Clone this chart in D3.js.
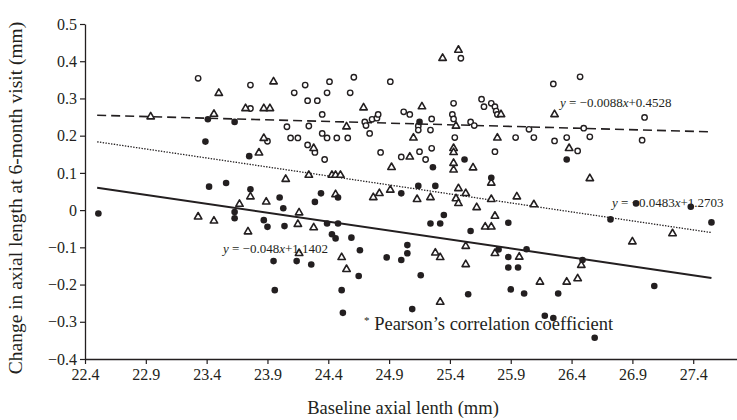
<!DOCTYPE html>
<html>
<head>
<meta charset="utf-8">
<script src="https://cdn.jsdelivr.net/npm/d3@7"></script>
<style>
  body { margin: 0; background: #fff; }
  text { font-family: "Liberation Serif", "DejaVu Serif", serif; fill: #231f20; }
</style>
</head>
<body>
<script>
// group 1: open circles
var openCircles = [
  [23.33, 0.354], [23.76, 0.336], [23.76, 0.273], [24.12, 0.315], [24.21, 0.336],
  [24.41, 0.345], [24.61, 0.357], [24.91, 0.345], [24.39, 0.315], [24.58, 0.315],
  [24.23, 0.294], [24.31, 0.294], [24.35, 0.257], [24.70, 0.237], [24.71, 0.227],
  [24.76, 0.244], [24.80, 0.247], [24.81, 0.257], [25.02, 0.264], [25.07, 0.257],
  [24.06, 0.224], [24.24, 0.226], [24.74, 0.206], [24.35, 0.206], [24.39, 0.194],
  [24.47, 0.194], [24.56, 0.194], [24.09, 0.194], [24.15, 0.194], [23.90, 0.185],
  [24.23, 0.175], [24.29, 0.155], [24.37, 0.136], [24.83, 0.155], [25.00, 0.143],
  [25.49, 0.408], [26.25, 0.339], [25.43, 0.287], [25.66, 0.298], [25.68, 0.278],
  [25.74, 0.287], [25.77, 0.278], [25.78, 0.266], [25.79, 0.257], [25.42, 0.257],
  [25.43, 0.245], [25.25, 0.245], [25.14, 0.226], [25.14, 0.215], [25.24, 0.215],
  [25.57, 0.237], [25.60, 0.227], [25.44, 0.195], [26.05, 0.217], [26.09, 0.195],
  [25.94, 0.195], [26.26, 0.186], [26.36, 0.195], [25.15, 0.157], [25.25, 0.166],
  [25.20, 0.136], [25.77, 0.157], [26.47, 0.358], [27.00, 0.249], [26.55, 0.197],
  [26.50, 0.220], [26.98, 0.188], [26.45, 0.159]
];

// group 2: open triangles
var triangles = [
  [23.50, 0.314], [22.94, 0.251], [23.46, 0.258], [23.72, 0.273], [23.76, 0.036],
  [23.67, 0.016], [23.33, -0.018], [23.46, -0.029], [23.74, -0.058], [23.95, 0.345],
  [23.87, 0.273], [23.92, 0.273], [24.69, 0.275], [24.55, 0.224], [23.87, 0.193],
  [25.10, 0.194], [24.28, 0.166], [25.07, 0.143], [23.83, 0.154], [24.92, 0.115],
  [24.05, 0.083], [24.24, 0.094], [24.43, 0.094], [24.46, 0.094], [24.50, 0.094],
  [23.89, 0.022], [24.46, 0.042], [24.77, 0.034], [24.82, 0.045], [24.91, 0.054],
  [24.16, -0.007], [24.15, -0.038], [24.28, -0.047], [24.16, -0.116], [24.51, -0.127],
  [24.55, -0.159], [25.34, 0.408], [25.47, 0.430], [25.17, 0.278], [25.82, 0.257],
  [26.26, 0.257], [25.45, 0.226], [25.79, 0.194], [26.38, 0.166], [25.43, 0.166],
  [25.43, 0.155], [25.43, 0.126], [25.43, 0.108], [25.59, 0.114], [25.74, 0.073],
  [25.47, 0.058], [25.53, 0.045], [25.45, 0.031], [25.47, 0.018], [25.13, 0.029],
  [25.24, 0.034], [25.62, 0.007], [25.74, 0.029], [25.95, 0.036], [26.09, 0.015],
  [25.77, -0.016], [25.69, -0.045], [25.74, -0.045], [25.53, -0.097], [25.28, -0.115],
  [25.32, -0.127], [25.77, -0.116], [25.97, -0.126], [25.53, -0.146], [26.14, -0.193],
  [26.36, -0.193], [25.32, -0.247], [26.55, 0.085], [27.23, -0.063], [26.90, -0.085],
  [26.48, -0.148], [26.45, -0.184]
];

// group 3: filled circles
var filledCircles = [
  [22.51, -0.009], [23.41, 0.244], [23.63, 0.237], [23.39, 0.184], [23.75, 0.145],
  [23.42, 0.063], [23.56, 0.073], [23.76, 0.056], [23.63, -0.005], [23.63, -0.022],
  [24.00, 0.034], [24.03, 0.005], [24.29, 0.022], [24.34, 0.045], [24.48, 0.034],
  [25.00, 0.045], [23.87, -0.027], [23.90, -0.045], [24.04, -0.043], [24.39, -0.036],
  [24.48, -0.036], [24.43, -0.065], [24.46, -0.076], [24.59, -0.074], [24.66, -0.108],
  [25.05, -0.094], [25.05, -0.116], [24.88, -0.127], [25.00, -0.134], [23.95, -0.137],
  [24.14, -0.137], [24.26, -0.146], [24.65, -0.177], [23.96, -0.215], [24.51, -0.215],
  [24.52, -0.276], [25.09, -0.266], [25.15, 0.237], [25.52, 0.136], [25.26, 0.115],
  [26.36, 0.136], [25.74, 0.087], [25.14, 0.065], [25.28, 0.065], [25.35, -0.013],
  [25.24, -0.036], [25.32, -0.036], [25.88, -0.034], [25.57, -0.056], [25.80, -0.106],
  [26.03, -0.105], [25.88, -0.126], [25.88, -0.154], [25.96, -0.154], [25.16, -0.175],
  [25.90, -0.213], [26.01, -0.224], [25.55, -0.226], [26.29, -0.224], [26.18, -0.284],
  [26.25, -0.290], [26.93, 0.018], [27.38, 0.009], [26.72, -0.025], [27.55, -0.033],
  [26.49, -0.134], [27.08, -0.204], [26.59, -0.343]
];

// linear fits (slope, intercept), drawn over the measured range
var fitSlopes = [-0.0088, -0.0483, -0.048];
var fitIntercepts = [0.4528, 1.2703, 1.1402];
var fitRange = [22.5, 27.55];

var xTicks = [22.4, 22.9, 23.4, 23.9, 24.4, 24.9, 25.4, 25.9, 26.4, 26.9, 27.4];
var yTicks = [-0.4, -0.3, -0.2, -0.1, 0, 0.1, 0.2, 0.3, 0.4, 0.5];

var width = 737, height = 420;

var svg = d3.select("body").append("svg")
    .attr("width", width)
    .attr("height", height);

var x = d3.scaleLinear().domain([22.4, 27.76]).range([85, 737]);
var y = d3.scaleLinear().domain([-0.4, 0.5]).range([359, 24]);

// axes
var xAxis = d3.axisBottom(x)
    .tickValues(xTicks)
    .tickFormat(d3.format(".1f"))
    .tickSize(5)
    .tickSizeOuter(0);
var yAxis = d3.axisLeft(y)
    .tickValues(yTicks)
    .tickFormat(d => d === 0 ? "0" : d3.format(".1f")(d))
    .tickSize(5)
    .tickSizeOuter(0);

var gx = svg.append("g")
    .attr("transform", `translate(0, ${y(-0.4)})`)
    .call(xAxis);
var gy = svg.append("g")
    .attr("transform", `translate(${x(22.4)}, 0)`)
    .call(yAxis);

[gx, gy].forEach(function(g) {
    g.select(".domain").attr("stroke", "#231f20").attr("stroke-width", 1.3);
    g.selectAll(".tick line").attr("stroke", "#231f20").attr("stroke-width", 1.2);
    g.selectAll(".tick text")
        .attr("font-family", "Liberation Serif, serif")
        .attr("font-size", 16)
        .attr("fill", "#231f20");
});
gx.selectAll(".tick text").attr("y", 7).attr("dy", "0.85em");
gy.selectAll(".tick text").attr("x", -8);

// axis titles
svg.append("text")
    .attr("x", 403)
    .attr("y", 414)
    .attr("text-anchor", "middle")
    .attr("font-size", 18.5)
    .text("Baseline axial lenth (mm)");

svg.append("text")
    .attr("transform", "rotate(-90)")
    .attr("x", -198)
    .attr("y", 22)
    .attr("text-anchor", "middle")
    .attr("font-size", 19.5)
    .text("Change in axial length at 6-month visit (mm)");

// fitted lines
var dashes = ["9,5", "1.4,1.4", null];
var widths = [1.6, 1.3, 2];
fitSlopes.forEach(function(m, i) {
    var b = fitIntercepts[i];
    var pts = fitRange.map(v => [v, m * v + b]);
    svg.append("path")
        .attr("d", d3.line().x(d => x(d[0])).y(d => y(d[1]))(pts))
        .attr("fill", "none")
        .attr("stroke", "#231f20")
        .attr("stroke-width", widths[i])
        .attr("stroke-dasharray", dashes[i]);
});

// points
svg.append("g").selectAll("circle")
    .data(openCircles)
    .enter()
    .append("circle")
    .attr("cx", d => x(d[0]))
    .attr("cy", d => y(d[1]))
    .attr("r", 2.7)
    .attr("fill", "#fff")
    .attr("stroke", "#231f20")
    .attr("stroke-width", 1.4);

var tri = d3.symbol().type(d3.symbolTriangle).size(24);
svg.append("g").selectAll("path")
    .data(triangles)
    .enter()
    .append("path")
    .attr("d", tri)
    .attr("transform", d => `translate(${x(d[0])}, ${y(d[1])})`)
    .attr("fill", "#fff")
    .attr("stroke", "#231f20")
    .attr("stroke-width", 1.6)
    .attr("stroke-linejoin", "round");

svg.append("g").selectAll("circle")
    .data(filledCircles)
    .enter()
    .append("circle")
    .attr("cx", d => x(d[0]))
    .attr("cy", d => y(d[1]))
    .attr("r", 3.3)
    .attr("fill", "#231f20");

// equation labels
function fmt(v) { return String(v).replace("-", "\u2212"); }
var labelPos = [[560, 107], [612, 207], [223, 253]];
fitSlopes.forEach(function(m, i) {
    var t = svg.append("text")
        .attr("x", labelPos[i][0])
        .attr("y", labelPos[i][1])
        .attr("font-size", 13);
    t.append("tspan").attr("font-style", "italic").text("y");
    t.append("tspan").text(" = " + fmt(m));
    t.append("tspan").attr("font-style", "italic").text("x");
    t.append("tspan").text("+" + fitIntercepts[i]);
});

var note = svg.append("text")
    .attr("x", 364)
    .attr("y", 330)
    .attr("font-size", 18.5);
note.append("tspan").attr("font-size", 11).attr("dy", -6).text("*");
note.append("tspan").attr("dy", 6).text(" Pearson\u2019s correlation coefficient");
</script>
</body>
</html>
